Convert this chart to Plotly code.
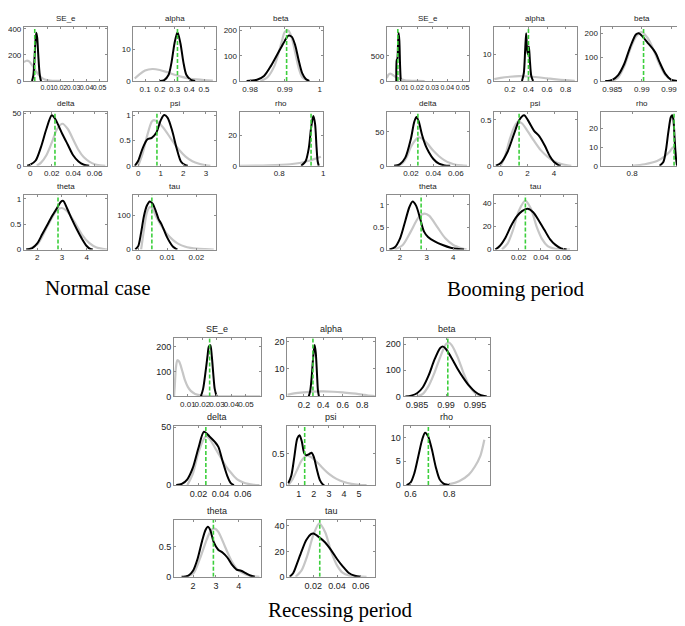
import plotly.graph_objects as go

# ---------------- DATA ----------------
# Normal case
nc_se_e_px = [-0.008, -0.006, -0.004, -0.002, 0.0, 0.002, 0.004, 0.006, 0.008, 0.012, 0.016, 0.02]
nc_se_e_py = [145, 155, 150, 125, 95, 65, 40, 22, 12, 4, 1, 0.3]
nc_se_e_bx = [-0.0018, -0.0008, 0.0, 0.0008, 0.0015, 0.0022, 0.003, 0.004, 0.005, 0.0055]
nc_se_e_by = [0, 40, 150, 300, 370, 330, 200, 60, 5, 0]
nc_se_e_mode = 0.0003

nc_alpha_px = [0.03, 0.06, 0.1, 0.15, 0.2, 0.25, 0.3, 0.35, 0.4, 0.45, 0.5, 0.56]
nc_alpha_py = [0.8, 2.0, 3.3, 3.8, 3.5, 2.8, 2.0, 1.3, 0.8, 0.5, 0.3, 0.15]
nc_alpha_bx = [0.2, 0.23, 0.26, 0.28, 0.3, 0.32, 0.34, 0.36, 0.38, 0.41, 0.44]
nc_alpha_by = [0, 0.3, 2, 6, 12, 15.5, 12, 6, 2, 0.4, 0]
nc_alpha_mode = 0.32

nc_beta_px = [0.983, 0.985, 0.987, 0.989, 0.990, 0.991, 0.992, 0.993, 0.994, 0.995, 0.997]
nc_beta_py = [0, 15, 60, 150, 195, 200, 170, 110, 50, 15, 0]
nc_beta_bx = [0.979, 0.982, 0.984, 0.986, 0.988, 0.989, 0.990, 0.991, 0.992, 0.993, 0.994, 0.995, 0.996, 0.997]
nc_beta_by = [0, 5, 20, 60, 110, 135, 160, 180, 175, 140, 80, 30, 8, 0]
nc_beta_mode = 0.9905

nc_delta_px = [0.006, 0.01, 0.015, 0.02, 0.025, 0.03, 0.035, 0.04, 0.045, 0.05, 0.055, 0.06, 0.065, 0.07]
nc_delta_py = [0, 3, 10, 22, 35, 40, 35, 25, 15, 8, 4, 1.5, 0.5, 0]
nc_delta_bx = [-0.003, 0.0, 0.005, 0.01, 0.015, 0.02, 0.023, 0.03, 0.035, 0.04, 0.045, 0.05, 0.055]
nc_delta_by = [0, 1, 5, 18, 35, 48, 45, 30, 20, 10, 4, 1, 0]
nc_delta_mode = 0.023

nc_psi_px = [0.0, 0.2, 0.4, 0.6, 0.7, 0.9, 1.2, 1.5, 1.8, 2.1, 2.4, 2.7, 3.0, 3.2]
nc_psi_py = [0, 0.25, 0.6, 0.87, 0.9, 0.85, 0.7, 0.5, 0.32, 0.18, 0.09, 0.04, 0.01, 0]
nc_psi_bx = [-0.15, 0.0, 0.2, 0.4, 0.6, 0.8, 1.0, 1.15, 1.3, 1.5, 1.7, 1.9, 2.1, 2.2]
nc_psi_by = [0, 0.1, 0.35, 0.52, 0.55, 0.65, 0.9, 1.0, 0.95, 0.7, 0.35, 0.08, 0.01, 0]
nc_psi_mode = 0.83

nc_rho_px = [0.62, 0.75, 0.85, 0.9, 0.94, 0.97, 0.99]
nc_rho_py = [0, 0.3, 1.0, 2.0, 3.5, 5.0, 6.0]
nc_rho_bx = [0.9, 0.92, 0.935, 0.945, 0.955, 0.963, 0.97, 0.975, 0.98]
nc_rho_by = [0, 3, 12, 25, 33, 28, 12, 3, 0]
nc_rho_mode = 0.945

nc_theta_px = [1.6, 2.0, 2.4, 2.8, 3.0, 3.2, 3.5, 3.8, 4.1, 4.4, 4.7, 4.84]
nc_theta_py = [0, 0.1, 0.45, 0.78, 0.82, 0.76, 0.55, 0.3, 0.13, 0.04, 0.01, 0]
nc_theta_bx = [1.55, 1.8, 2.0, 2.2, 2.4, 2.6, 2.8, 2.95, 3.05, 3.2, 3.4, 3.6, 3.8, 4.0, 4.15, 4.25]
nc_theta_by = [0, 0.03, 0.12, 0.3, 0.48, 0.66, 0.82, 0.94, 0.96, 0.82, 0.6, 0.4, 0.22, 0.07, 0.01, 0]
nc_theta_mode = 2.84

nc_tau_px = [0.001, 0.002, 0.003, 0.004, 0.005, 0.006, 0.008, 0.010, 0.012, 0.014, 0.016, 0.018, 0.020, 0.023, 0.026]
nc_tau_py = [0, 60, 110, 125, 120, 100, 70, 45, 28, 16, 9, 5, 2.5, 1, 0]
nc_tau_bx = [-0.001, 0.0, 0.001, 0.002, 0.003, 0.004, 0.005, 0.006, 0.007, 0.008, 0.009, 0.010, 0.011, 0.012, 0.013, 0.0135]
nc_tau_by = [0, 10, 50, 100, 130, 142, 135, 115, 90, 75, 55, 35, 20, 8, 2, 0]
nc_tau_mode = 0.0047

# Booming period
bp_se_e_px = [0.0, 0.001, 0.002, 0.003, 0.004, 0.006, 0.008, 0.010, 0.012, 0.014, 0.017, 0.02, 0.025]
bp_se_e_py = [60, 120, 145, 140, 120, 80, 50, 28, 14, 6, 2, 0.5, 0]
bp_se_e_bx = [0.0063, 0.0066, 0.0070, 0.0074, 0.0078, 0.0083, 0.0088, 0.0093, 0.0096]
bp_se_e_by = [0, 420, 440, 700, 960, 800, 300, 20, 0]
bp_se_e_mode = 0.0073

bp_alpha_px = [0.03, 0.1, 0.2, 0.3, 0.4, 0.5, 0.6, 0.7, 0.8, 0.9]
bp_alpha_py = [0.7, 1.2, 1.6, 1.8, 1.7, 1.4, 1.0, 0.6, 0.3, 0.1]
bp_alpha_bx = [0.33, 0.35, 0.365, 0.375, 0.385, 0.395, 0.405, 0.415, 0.43, 0.45]
bp_alpha_by = [0, 3, 12, 18, 12, 10, 13, 8, 2, 0]
bp_alpha_mode = 0.40

bp_beta_px = [0.985, 0.986, 0.987, 0.988, 0.989, 0.990, 0.991, 0.992, 0.993, 0.994, 0.995, 0.996]
bp_beta_py = [0, 15, 60, 130, 185, 205, 180, 130, 70, 25, 5, 0]
bp_beta_bx = [0.9838, 0.985, 0.986, 0.987, 0.988, 0.989, 0.9895, 0.990, 0.991, 0.992, 0.9925, 0.993, 0.994, 0.995, 0.996]
bp_beta_by = [0, 5, 25, 70, 140, 195, 200, 190, 160, 130, 110, 80, 30, 5, 0]
bp_beta_mode = 0.9903

bp_delta_px = [0.008, 0.012, 0.016, 0.02, 0.024, 0.027, 0.03, 0.035, 0.04, 0.045, 0.05, 0.055, 0.06, 0.065, 0.07]
bp_delta_py = [0, 3, 12, 28, 38, 42, 40, 32, 22, 14, 8, 4, 1.5, 0.5, 0]
bp_delta_bx = [0.005, 0.01, 0.015, 0.02, 0.023, 0.025, 0.027, 0.03, 0.033, 0.036, 0.04, 0.045, 0.05, 0.055]
bp_delta_by = [0, 2, 12, 40, 65, 72, 65, 45, 30, 20, 10, 3, 0.5, 0]
bp_delta_mode = 0.0262

bp_psi_px = [0.0, 0.3, 0.7, 1.0, 1.3, 1.6, 2.0, 2.5, 3.0, 3.5, 4.0, 4.5, 5.0, 5.3]
bp_psi_py = [0, 0.1, 0.3, 0.42, 0.48, 0.46, 0.38, 0.27, 0.17, 0.1, 0.05, 0.02, 0.005, 0]
bp_psi_bx = [-0.37, 0.0, 0.5, 1.0, 1.4, 1.75, 2.1, 2.5, 2.9, 3.3, 3.7, 4.0, 4.3, 4.5]
bp_psi_by = [0, 0.03, 0.15, 0.35, 0.5, 0.55, 0.48, 0.38, 0.32, 0.22, 0.1, 0.04, 0.01, 0]
bp_psi_mode = 1.375

bp_rho_px = [0.80, 0.85, 0.9, 0.93, 0.95, 0.965, 0.975, 0.985, 0.99]
bp_rho_py = [0, 0.8, 2.5, 5, 7.5, 10, 6, 1, 0]
bp_rho_bx = [0.91, 0.925, 0.935, 0.945, 0.955, 0.96, 0.965, 0.97, 0.975, 0.98]
bp_rho_by = [0, 2, 8, 18, 26, 27, 25, 15, 5, 0]
bp_rho_mode = 0.968

bp_theta_px = [1.8, 2.1, 2.4, 2.7, 2.92, 3.1, 3.4, 3.7, 4.0, 4.3, 4.5]
bp_theta_py = [0, 0.1, 0.4, 0.72, 0.8, 0.75, 0.5, 0.25, 0.1, 0.03, 0]
bp_theta_bx = [1.6, 1.8, 2.0, 2.2, 2.35, 2.47, 2.6, 2.75, 2.9, 3.05, 3.3, 3.6, 3.9, 4.2, 4.4]
bp_theta_by = [0, 0.05, 0.25, 0.65, 0.95, 1.07, 0.98, 0.7, 0.4, 0.28, 0.18, 0.1, 0.04, 0.01, 0]
bp_theta_mode = 2.79

bp_tau_px = [0.005, 0.01, 0.015, 0.02, 0.026, 0.031, 0.036, 0.041, 0.046, 0.051, 0.056, 0.061, 0.066]
bp_tau_py = [0, 5, 17, 33, 42, 35, 20, 9, 3, 1, 0.3, 0.05, 0]
bp_tau_bx = [-0.001, 0.003, 0.008, 0.013, 0.018, 0.023, 0.028, 0.033, 0.038, 0.043, 0.048, 0.053, 0.058, 0.063]
bp_tau_by = [0, 3, 10, 20, 28, 33, 35, 32, 25, 17, 9, 4, 1, 0]
bp_tau_mode = 0.026

# Recessing period
rp_se_e_px = [0.0005, 0.001, 0.0018, 0.0028, 0.004, 0.005, 0.0065, 0.008, 0.01, 0.012, 0.015, 0.02, 0.025, 0.03, 0.04, 0.06]
rp_se_e_py = [0, 40, 115, 145, 140, 125, 95, 65, 38, 22, 10, 3, 1, 0.3, 0.05, 0]
rp_se_e_bx = [0.019, 0.0205, 0.022, 0.0235, 0.0245, 0.0255, 0.0265, 0.0275, 0.0285, 0.0298]
rp_se_e_by = [0, 30, 90, 160, 200, 205, 160, 90, 30, 0]
rp_se_e_mode = 0.025

rp_alpha_px = [0.03, 0.1, 0.2, 0.3, 0.4, 0.5, 0.6, 0.7, 0.8, 0.85, 0.93]
rp_alpha_py = [0.6, 1.1, 1.5, 1.75, 1.8, 1.7, 1.45, 1.1, 0.7, 0.4, 0.1]
rp_alpha_bx = [0.25, 0.265, 0.28, 0.295, 0.31, 0.322, 0.335, 0.345, 0.355]
rp_alpha_by = [0, 2, 7, 14, 18.7, 16, 8, 2, 0]
rp_alpha_mode = 0.293

rp_beta_px = [0.985, 0.986, 0.987, 0.988, 0.989, 0.990, 0.9905, 0.991, 0.992, 0.993, 0.994, 0.995, 0.996, 0.997]
rp_beta_py = [0, 10, 40, 90, 150, 200, 205, 195, 150, 90, 40, 12, 2, 0]
rp_beta_bx = [0.983, 0.984, 0.985, 0.986, 0.987, 0.988, 0.989, 0.9895, 0.990, 0.991, 0.992, 0.993, 0.994, 0.995, 0.996, 0.997]
rp_beta_by = [0, 3, 12, 35, 80, 140, 185, 190, 180, 145, 105, 70, 40, 18, 5, 0]
rp_beta_mode = 0.9903

rp_delta_px = [0.01, 0.015, 0.02, 0.025, 0.027, 0.03, 0.035, 0.04, 0.045, 0.05, 0.055, 0.06, 0.065, 0.07, 0.075]
rp_delta_py = [0, 10, 28, 40, 42, 40, 32, 24, 16, 10, 5, 2.5, 1, 0.3, 0]
rp_delta_bx = [0.0, 0.005, 0.01, 0.015, 0.02, 0.025, 0.03, 0.035, 0.038, 0.042, 0.046, 0.049, 0.052]
rp_delta_by = [0, 1, 5, 15, 32, 46, 42, 37, 33, 20, 8, 2, 0]
rp_delta_mode = 0.0267

rp_psi_px = [0.3, 0.6, 0.9, 1.2, 1.5, 1.8, 2.2, 2.6, 3.0, 3.5, 4.0, 4.5, 5.0, 5.5]
rp_psi_py = [0, 0.1, 0.25, 0.4, 0.47, 0.45, 0.37, 0.27, 0.18, 0.1, 0.05, 0.02, 0.005, 0]
rp_psi_bx = [0.3, 0.5, 0.7, 0.9, 1.05, 1.2, 1.35, 1.5, 1.7, 1.85, 2.0, 2.2, 2.4, 2.6, 2.7]
rp_psi_by = [0.03, 0.15, 0.45, 0.75, 0.8, 0.7, 0.52, 0.48, 0.5, 0.52, 0.45, 0.25, 0.08, 0.01, 0]
rp_psi_mode = 1.39

rp_rho_px = [0.75, 0.8, 0.85, 0.9, 0.93, 0.96, 0.98]
rp_rho_py = [0, 0.2, 0.8, 2.2, 3.8, 6.2, 9.5]
rp_rho_bx = [0.58, 0.6, 0.62, 0.64, 0.66, 0.675, 0.69, 0.71, 0.73, 0.75, 0.77, 0.79, 0.8]
rp_rho_by = [0, 0.5, 2.5, 6, 9.5, 11, 10.3, 7.5, 3.8, 1.2, 0.3, 0.05, 0]
rp_rho_mode = 0.692

rp_theta_px = [1.6, 2.0, 2.3, 2.6, 2.8, 2.95, 3.1, 3.4, 3.7, 4.0, 4.3, 4.6, 4.9]
rp_theta_py = [0, 0.05, 0.3, 0.62, 0.78, 0.8, 0.75, 0.5, 0.25, 0.1, 0.04, 0.01, 0]
rp_theta_bx = [1.5, 1.8, 2.0, 2.2, 2.4, 2.55, 2.65, 2.75, 2.9, 3.1, 3.3, 3.5, 3.7, 3.9, 4.1, 4.3, 4.5, 4.7]
rp_theta_by = [0, 0.02, 0.1, 0.3, 0.6, 0.78, 0.83, 0.78, 0.58, 0.45, 0.4, 0.32, 0.2, 0.12, 0.1, 0.06, 0.02, 0]
rp_theta_mode = 2.89

rp_tau_px = [0.005, 0.01, 0.015, 0.02, 0.025, 0.03, 0.035, 0.04, 0.045, 0.05, 0.055, 0.06, 0.065]
rp_tau_py = [0, 5, 17, 33, 42, 35, 20, 9, 3, 1, 0.3, 0.05, 0]
rp_tau_bx = [0.0, 0.003, 0.006, 0.01, 0.014, 0.018, 0.02, 0.025, 0.03, 0.035, 0.04, 0.045, 0.05, 0.055, 0.06]
rp_tau_by = [0, 3, 10, 20, 29, 33.5, 34, 31, 27, 21, 14, 8, 3, 0.8, 0]
rp_tau_mode = 0.0254

captions = ["Normal case", "Booming period", "Recessing period"]

# ---------------- LAYOUT ----------------
W, H = 685, 626
GRAY = "#c6c6c6"
GREEN = "#3ccf3c"

nc_cols = [(15, 99), (125, 208), (232, 316)]
bp_cols = [(380, 463), (488, 571), (595, 678)]
top_rows = [(15, 70), (101, 156), (186, 241)]
rp_cols = [(166, 253), (280, 368), (397, 484)]
rp_rows = [(331, 390), (420, 480), (515, 573)]

se_ticks = [0.01, 0.02, 0.03, 0.04, 0.05]
se_lbl = ["0.01", "0.02", "0.03", "0.04", "0.05"]

panels = [
    ("SE_e", nc_cols, top_rows, 0, 0, [-0.008, 0.056], se_ticks, se_lbl, [0, 415], [0, 200, 400],
     nc_se_e_px, nc_se_e_py, nc_se_e_bx, nc_se_e_by, nc_se_e_mode, 8),
    ("alpha", nc_cols, top_rows, 0, 1, [0.02, 0.58], [0.1, 0.2, 0.3, 0.4, 0.5], ["0.1", "0.2", "0.3", "0.4", "0.5"],
     [0, 17.2], [0, 10], nc_alpha_px, nc_alpha_py, nc_alpha_bx, nc_alpha_by, nc_alpha_mode, 8),
    ("beta", nc_cols, top_rows, 0, 2, [0.977, 1.001], [0.98, 0.99, 1.0], ["0.98", "0.99", "1"],
     [0, 215], [0, 100, 200], nc_beta_px, nc_beta_py, nc_beta_bx, nc_beta_by, nc_beta_mode, 8),
    ("delta", nc_cols, top_rows, 1, 0, [-0.006, 0.072], [0, 0.02, 0.04, 0.06], ["0", "0.02", "0.04", "0.06"],
     [0, 51.6], [0, 50], nc_delta_px, nc_delta_py, nc_delta_bx, nc_delta_by, nc_delta_mode, 8),
    ("psi", nc_cols, top_rows, 1, 1, [-0.22, 3.44], [0, 1, 2, 3], ["0", "1", "2", "3"],
     [0, 1.07], [0, 0.5, 1], nc_psi_px, nc_psi_py, nc_psi_bx, nc_psi_by, nc_psi_mode, 8),
    ("rho", nc_cols, top_rows, 1, 2, [0.62, 1.0], [0.8, 1.0], ["0.8", "1"],
     [0, 36], [0, 20], nc_rho_px, nc_rho_py, nc_rho_bx, nc_rho_by, nc_rho_mode, 8),
    ("theta", nc_cols, top_rows, 2, 0, [1.46, 4.84], [2, 3, 4], ["2", "3", "4"],
     [0, 1.07], [0, 0.5, 1], nc_theta_px, nc_theta_py, nc_theta_bx, nc_theta_by, nc_theta_mode, 8),
    ("tau", nc_cols, top_rows, 2, 1, [-0.0017, 0.0267], [0, 0.01, 0.02], ["0", "0.01", "0.02"],
     [0, 160], [0, 100], nc_tau_px, nc_tau_py, nc_tau_bx, nc_tau_by, nc_tau_mode, 8),

    ("SE_e", bp_cols, top_rows, 0, 0, [0.0, 0.0545], se_ticks, se_lbl, [0, 1080], [0, 500],
     bp_se_e_px, bp_se_e_py, bp_se_e_bx, bp_se_e_by, bp_se_e_mode, 8),
    ("alpha", bp_cols, top_rows, 0, 1, [0.03, 0.92], [0.2, 0.4, 0.6, 0.8], ["0.2", "0.4", "0.6", "0.8"],
     [0, 20.4], [0, 10], bp_alpha_px, bp_alpha_py, bp_alpha_bx, bp_alpha_by, bp_alpha_mode, 8),
    ("beta", bp_cols, top_rows, 0, 2, [0.983, 0.997], [0.985, 0.99, 0.995], ["0.985", "0.99", "0.995"],
     [0, 227], [0, 100, 200], bp_beta_px, bp_beta_py, bp_beta_bx, bp_beta_by, bp_beta_mode, 8),
    ("delta", bp_cols, top_rows, 1, 0, [-0.0015, 0.072], [0.02, 0.04, 0.06], ["0.02", "0.04", "0.06"],
     [0, 80], [0, 50], bp_delta_px, bp_delta_py, bp_delta_bx, bp_delta_by, bp_delta_mode, 8),
    ("psi", bp_cols, top_rows, 1, 1, [-0.5, 5.7], [0, 2, 4], ["0", "2", "4"],
     [0, 0.59], [0, 0.5], bp_psi_px, bp_psi_py, bp_psi_bx, bp_psi_by, bp_psi_mode, 8),
    ("rho", bp_cols, top_rows, 1, 2, [0.673, 1.004], [0.8, 1.0], ["0.8", "1"],
     [0, 29], [0, 10, 20], bp_rho_px, bp_rho_py, bp_rho_bx, bp_rho_by, bp_rho_mode, 8),
    ("theta", bp_cols, top_rows, 2, 0, [1.5, 4.6], [2, 3, 4], ["2", "3", "4"],
     [0, 1.21], [0, 0.5, 1], bp_theta_px, bp_theta_py, bp_theta_bx, bp_theta_by, bp_theta_mode, 8),
    ("tau", bp_cols, top_rows, 2, 1, [-0.002, 0.072], [0.02, 0.04, 0.06], ["0.02", "0.04", "0.06"],
     [0, 46.6], [0, 20, 40], bp_tau_px, bp_tau_py, bp_tau_bx, bp_tau_by, bp_tau_mode, 8),

    ("SE_e", rp_cols, rp_rows, 0, 0, [0.0005, 0.06], se_ticks, se_lbl, [0, 233], [0, 100, 200],
     rp_se_e_px, rp_se_e_py, rp_se_e_bx, rp_se_e_by, rp_se_e_mode, 9),
    ("alpha", rp_cols, rp_rows, 0, 1, [0.03, 0.93], [0.2, 0.4, 0.6, 0.8], ["0.2", "0.4", "0.6", "0.8"],
     [0, 21.2], [0, 10, 20], rp_alpha_px, rp_alpha_py, rp_alpha_bx, rp_alpha_by, rp_alpha_mode, 9),
    ("beta", rp_cols, rp_rows, 0, 2, [0.9827, 0.9976], [0.985, 0.99, 0.995], ["0.985", "0.99", "0.995"],
     [0, 222], [0, 100, 200], rp_beta_px, rp_beta_py, rp_beta_bx, rp_beta_by, rp_beta_mode, 9),
    ("delta", rp_cols, rp_rows, 1, 0, [-0.002, 0.076], [0.02, 0.04, 0.06], ["0.02", "0.04", "0.06"],
     [0, 51], [0, 50], rp_delta_px, rp_delta_py, rp_delta_bx, rp_delta_by, rp_delta_mode, 9),
    ("psi", rp_cols, rp_rows, 1, 1, [0.24, 6.05], [1, 2, 3, 4, 5], ["1", "2", "3", "4", "5"],
     [0, 0.95], [0, 0.5], rp_psi_px, rp_psi_py, rp_psi_bx, rp_psi_by, rp_psi_mode, 9),
    ("rho", rp_cols, rp_rows, 1, 2, [0.565, 1.01], [0.6, 0.8], ["0.6", "0.8"],
     [0, 12.4], [0, 5, 10], rp_rho_px, rp_rho_py, rp_rho_bx, rp_rho_by, rp_rho_mode, 9),
    ("theta", rp_cols, rp_rows, 2, 0, [1.17, 4.95], [2, 3, 4], ["2", "3", "4"],
     [0, 0.95], [0, 0.5], rp_theta_px, rp_theta_py, rp_theta_bx, rp_theta_by, rp_theta_mode, 9),
    ("tau", rp_cols, rp_rows, 2, 1, [-0.002, 0.072], [0.02, 0.04, 0.06], ["0.02", "0.04", "0.06"],
     [0, 45], [0, 20, 40], rp_tau_px, rp_tau_py, rp_tau_bx, rp_tau_by, rp_tau_mode, 9),
]

fig = go.Figure()
layout = {}
annotations = []

for i, p in enumerate(panels, start=1):
    (title, cols, rows, r, c, xr, xt, xl, yr, yt, px, py, bx, by, mode, fs) = p
    x0, x1 = cols[c]
    y0, y1 = rows[r]
    xa = "x" if i == 1 else f"x{i}"
    ya = "y" if i == 1 else f"y{i}"
    xkey = "xaxis" if i == 1 else f"xaxis{i}"
    ykey = "yaxis" if i == 1 else f"yaxis{i}"
    axis_common = dict(showline=True, mirror="ticks", linecolor="#8c8c8c", linewidth=1,
                       ticks="inside", ticklen=2, tickcolor="#8c8c8c",
                       showgrid=False, zeroline=False)
    # the dense SE_e labels get a slightly smaller font so they just touch, as in the source
    xfs = fs - 1 if title == "SE_e" else fs
    layout[xkey] = dict(domain=[x0 / W, x1 / W], range=xr, anchor=ya, tickangle=0,
                        tickmode="array", tickvals=xt, ticktext=xl,
                        tickfont=dict(family="Liberation Sans, Arial", size=xfs, color="#222"),
                        **axis_common)
    layout[ykey] = dict(domain=[1 - y1 / H, 1 - y0 / H], range=yr, anchor=xa, tickangle=0,
                        tickmode="array", tickvals=yt, ticktext=[f"{v:g}" for v in yt],
                        tickfont=dict(family="Liberation Sans, Arial", size=fs, color="#222"),
                        **axis_common)
    fig.add_trace(go.Scatter(x=px, y=py, mode="lines", xaxis=xa, yaxis=ya,
                             line=dict(color=GRAY, width=2.2, shape="spline", smoothing=0.8),
                             showlegend=False, hoverinfo="skip"))
    fig.add_trace(go.Scatter(x=bx, y=by, mode="lines", xaxis=xa, yaxis=ya,
                             line=dict(color="black", width=2, shape="spline", smoothing=0.8),
                             showlegend=False, hoverinfo="skip"))
    fig.add_trace(go.Scatter(x=[mode, mode], y=[yr[0], yr[1]], mode="lines", xaxis=xa, yaxis=ya,
                             line=dict(color=GREEN, width=1.6, dash="4px,2px"),
                             showlegend=False, hoverinfo="skip"))
    annotations.append(dict(text=title, x=(x0 + x1) / 2 / W, y=1 - y0 / H, xref="paper", yref="paper",
                            xanchor="center", yanchor="bottom", yshift=2, showarrow=False,
                            font=dict(family="Liberation Sans, Arial", size=fs, color="#222")))

cap_pos = [(90, 280), (510, 281), (333, 607)]
for txt, (cx, cy) in zip(captions, cap_pos):
    annotations.append(dict(text=txt, x=cx / W, y=1 - cy / H, xref="paper", yref="paper",
                            xanchor="center", yanchor="middle", showarrow=False,
                            font=dict(family="Liberation Serif, Times New Roman", size=21, color="black")))

fig.update_layout(width=W, height=H, margin=dict(l=0, r=0, t=0, b=0),
                  paper_bgcolor="white", plot_bgcolor="white",
                  annotations=annotations, **layout)
fig.write_html("out.html")
